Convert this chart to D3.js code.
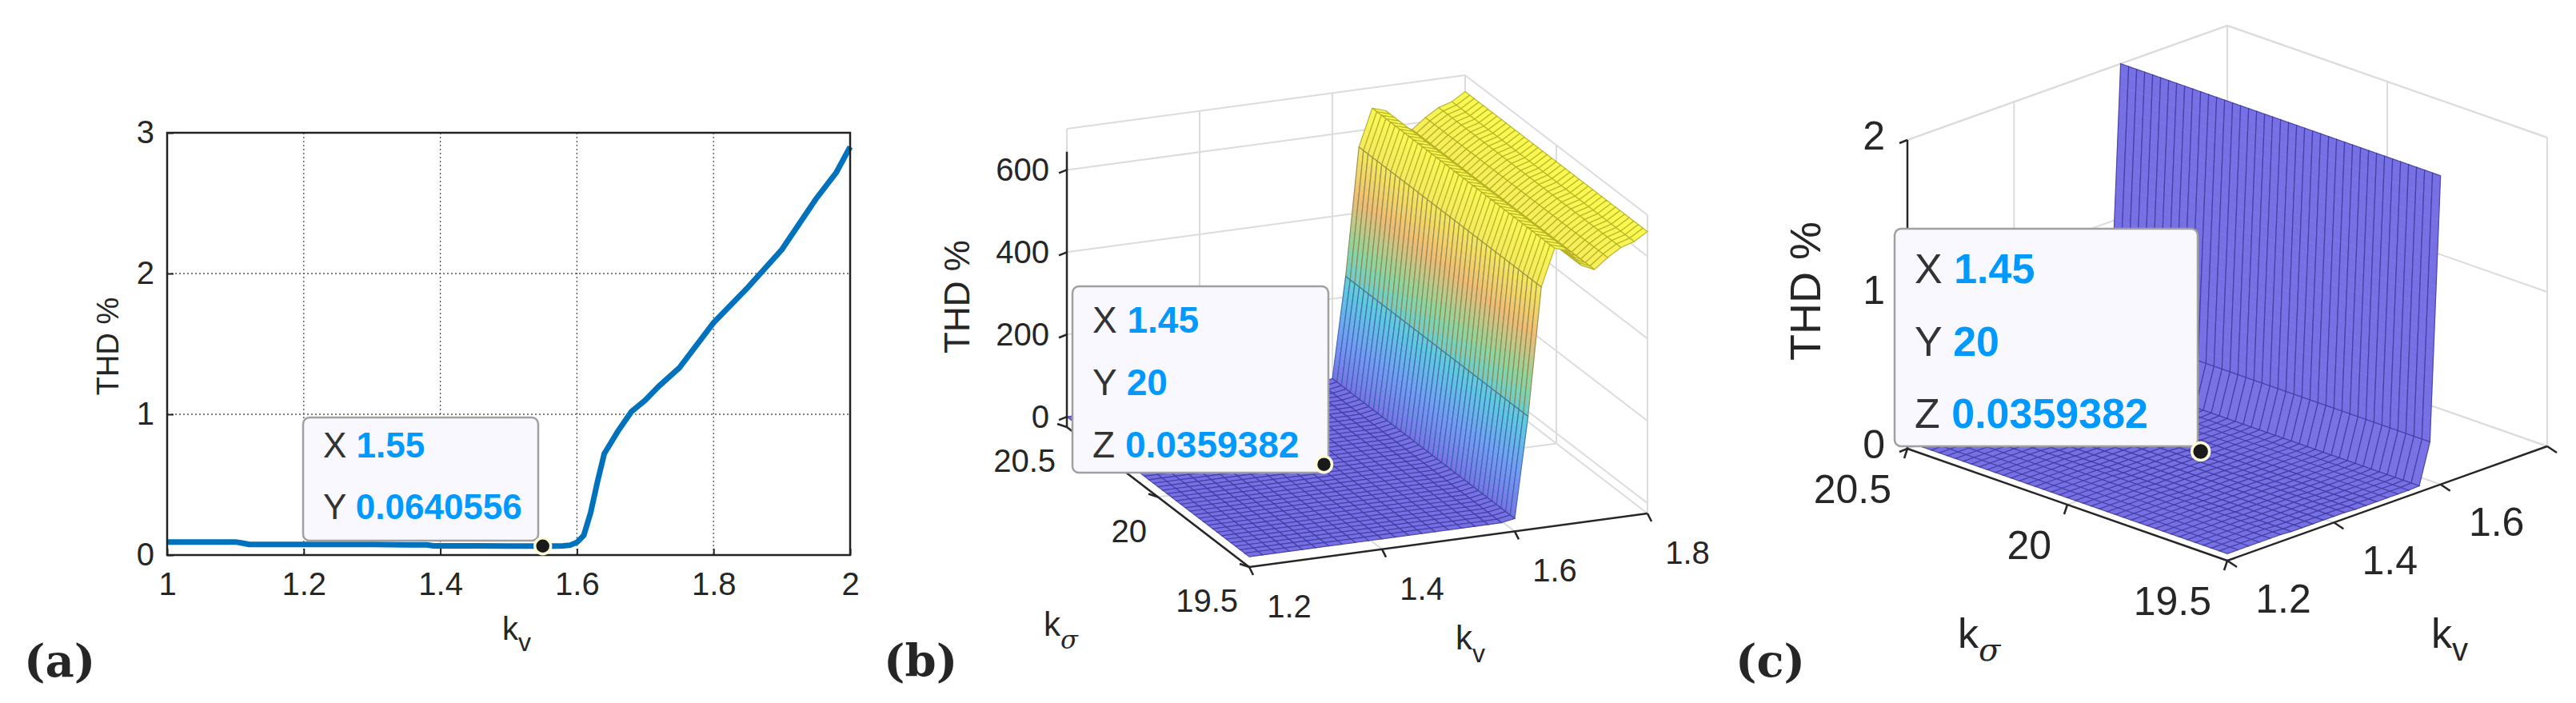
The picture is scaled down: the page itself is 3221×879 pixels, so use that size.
<!DOCTYPE html>
<html><head><meta charset="utf-8">
<script src="https://cdn.jsdelivr.net/npm/d3@7"></script>
<style>body{margin:0;background:#fff}text{font-family:"Liberation Sans",Arial,sans-serif;fill:#262626}</style>
</head><body>
<svg id="c" width="3221" height="879"></svg>
<script>
// ---- data ----
const kvA  = [1.0,1.1,1.11,1.12,1.2,1.3,1.38,1.39,1.45,1.5,1.55,1.57,1.58,1.59,1.6,1.61,1.62,1.63,1.64,1.65,1.66,1.68,1.7,1.72,1.75,1.8,1.85,1.9,1.95,1.98,2.0];
const thdA = [0.093,0.093,0.085,0.075,0.075,0.075,0.072,0.065,0.065,0.064,0.064,0.064,0.065,0.07,0.09,0.14,0.3,0.52,0.72,0.8,0.88,1.02,1.1,1.2,1.33,1.65,1.9,2.17,2.53,2.72,2.9];
const xTicksA = [1,1.2,1.4,1.6,1.8,2];
const yTicksA = [0,1,2,3];
const kvGrid = [1.2,1.22,1.24,1.26,1.28,1.3,1.32,1.34,1.36,1.38,1.4,1.42,1.44,1.46,1.48,1.5,1.52,1.54,1.56,1.58,1.6,1.62,1.64,1.66,1.68,1.7,1.72,1.74,1.76,1.78,1.8];
const thdSurf = [0.045,0.045,0.045,0.045,0.045,0.045,0.04,0.04,0.04,0.04,0.04,0.04,0.036,0.036,0.036,0.036,0.036,0.036,0.04,0.3,6,250,560,650,640,600,585,610,630,640,660];
const kSigmaTicks = [19.5,20,20.5];
const kvTicks3 = [1.2,1.4,1.6,1.8];
const zTicksB = [0,200,400,600];
const zTicksC = [0,1,2];
const tipA = {x:1.55, y:0.0640556};
const tip3 = {x:1.45, y:20, z:0.0359382};

const svg = d3.select("#c");
svg.append("rect").attr("width",3221).attr("height",879).attr("fill","#fff");

// ---- panel a ----
const xa = d3.scaleLinear().domain([1,2]).range([209,1063]);
const ya = d3.scaleLinear().domain([0,3]).range([694,166]);
const ga = svg.append("g");
ga.append("g").selectAll("line").data(xTicksA.slice(1,-1)).join("line")
  .attr("x1",d=>xa(d)).attr("x2",d=>xa(d)).attr("y1",166).attr("y2",694)
  .attr("stroke","#555").attr("stroke-width",1.3).attr("stroke-dasharray","2,3");
ga.append("g").selectAll("line").data(yTicksA.slice(1,-1)).join("line")
  .attr("y1",d=>ya(d)).attr("y2",d=>ya(d)).attr("x1",209).attr("x2",1063)
  .attr("stroke","#555").attr("stroke-width",1.3).attr("stroke-dasharray","2,3");
ga.append("path").datum(kvA.map((k,i)=>[k,thdA[i]]))
  .attr("d",d3.line().x(d=>xa(d[0])).y(d=>ya(d[1])))
  .attr("fill","none").attr("stroke","#0072BD").attr("stroke-width",7);
ga.append("rect").attr("x",209).attr("y",166).attr("width",854).attr("height",528)
  .attr("fill","none").attr("stroke","#222").attr("stroke-width",2.5);
const axb = ga.append("g").attr("transform","translate(0,694)")
  .call(d3.axisBottom(xa).tickValues(xTicksA).tickSize(-8).tickPadding(22).tickFormat(d3.format("~g")));
const axl = ga.append("g").attr("transform","translate(209,0)")
  .call(d3.axisLeft(ya).tickValues(yTicksA).tickSize(-8).tickPadding(16).tickFormat(d3.format("~g")));
[axb,axl].forEach(a=>{a.select(".domain").remove();a.selectAll("line").attr("stroke","#222").attr("stroke-width",2);
  a.selectAll("text").attr("font-size",40).attr("fill","#262626").attr("font-family","Liberation Sans Narrow, Liberation Sans");});
ga.append("text").attr("transform","translate(148,433) rotate(-90)").attr("text-anchor","middle").attr("font-size",38).text("THD %");
ga.append("text").attr("x",628).attr("y",800).attr("font-size",40).html('k<tspan font-size="32" dy="14">v</tspan>');
svg.append("text").attr("x",30).attr("y",846).attr("font-size",56).attr("font-weight","bold").style("font-family","DejaVu Serif, serif").text("(a)");

function tipBox(g,x,y,w,h,lines,fs){
  g.append("rect").attr("x",x).attr("y",y).attr("width",w).attr("height",h).attr("rx",8)
    .attr("fill","#f8f8fe").attr("stroke","#a0a0a0").attr("stroke-width",2.5);
  lines.forEach((l,i)=>{
    const t=g.append("text").attr("x",x+25).attr("y",y+h*(i+0.75)/lines.length+(lines.length==2?-8:0)).attr("font-size",fs);
    t.append("tspan").attr("fill","#333").text(l[0]+" ");
    t.append("tspan").attr("fill","#0099ff").attr("font-weight","bold").text(l[1]);
  });
}
function marker(g,x,y,r){g.append("circle").attr("cx",x).attr("cy",y).attr("r",r).attr("fill","#1a1a1a").attr("stroke","#fffbd8").attr("stroke-width",3.5);}
tipBox(ga,379,522,294,154,[["X",String(tipA.x)],["Y",String(tipA.y)]],44);
marker(ga,xa(tipA.x),ya(tipA.y),10);

// ---- 3D panels ----
const cmap = d3.scaleLinear().domain([0,110,220,330,440,550,660])
  .range(["#5048dc","#4a7ef0","#30b8d8","#70c880","#e8a850","#f0e030","#f8f820"]).clamp(true);

function panel3d(o){
  const g = svg.append("g");
  const sx=d3.scaleLinear().domain([1.2,1.8]).range([0,1]);
  const sy=d3.scaleLinear().domain([19.5,20.5]).range([0,1]);
  const sz=d3.scaleLinear().domain(o.zd).range([0,1]);
  const z0=o.zd[0], zmax=o.zd[1];
  const P=(kv,ks,z)=>[o.P0[0]+sx(kv)*o.ex[0]+sy(ks)*o.ey[0], o.P0[1]+sx(kv)*o.ex[1]+sy(ks)*o.ey[1]+sz(z)*o.ez];
  // back walls grid
  const wall=g.append("g").attr("stroke","#dcdcdc").attr("stroke-width",2).attr("fill","none");
  const L=(a,b)=>wall.append("line").attr("x1",a[0]).attr("y1",a[1]).attr("x2",b[0]).attr("y2",b[1]);
  o.zt.concat([zmax]).forEach(z=>{L(P(1.2,20.5,z),P(1.8,20.5,z));L(P(1.8,20.5,z),P(1.8,19.5,z));});
  kvTicks3.concat([1.8]).forEach(k=>L(P(k,20.5,z0),P(k,20.5,zmax)));
  [20,19.5].forEach(s=>L(P(1.8,s,z0),P(1.8,s,zmax)));
  kvTicks3.forEach(k=>L(P(k,19.5,z0),P(k,20.5,z0)));
  [20].forEach(s=>L(P(1.2,s,z0),P(1.8,s,z0)));
  // surface quads (tall cells split into bands for colour shading)
  const ksGrid=d3.range(19.5,20.5001,0.025);
  const quads=[], edges=[];
  for(let i=0;i<kvGrid.length-1;i++)for(let j=0;j<ksGrid.length-1;j++){
    const za=thdSurf[i], zb=thdSurf[i+1];
    if(Math.min(za,zb)>zmax) continue;
    const zA=Math.min(za,zmax), zB=Math.min(zb,zmax);
    const n = Math.abs(zB-zA)/(zmax-z0) > 0.1 ? 24 : 1;
    const c=P((kvGrid[i]+kvGrid[i+1])/2,(ksGrid[j]+ksGrid[j+1])/2,z0);
    for(let s=0;s<n;s++){
      const t0=s/n,t1=(s+1)/n;
      const k0=kvGrid[i]+(kvGrid[i+1]-kvGrid[i])*t0, k1=kvGrid[i]+(kvGrid[i+1]-kvGrid[i])*t1;
      const q0=zA+(zB-zA)*t0, q1=zA+(zB-zA)*t1;
      const pts=[P(k0,ksGrid[j],q0),P(k1,ksGrid[j],q1),P(k1,ksGrid[j+1],q1),P(k0,ksGrid[j+1],q0)];
      const zr = za+(zb-za)*(t0+t1)/2;
      quads.push({pts,depth:c[1]-s*0.001,z:n>1?(q0+q1)/2*(o.colorScale):zr});
    }
    const e=[P(kvGrid[i],ksGrid[j],zA),P(kvGrid[i+1],ksGrid[j],zB),P(kvGrid[i+1],ksGrid[j+1],zB),P(kvGrid[i],ksGrid[j+1],zA)];
    quads.push({pts:e,depth:c[1]+0.0005,edge:true,z:(za+zb)/2});
  }
  quads.sort((a,b)=>a.depth-b.depth);
  g.append("g").selectAll("path").data(quads).join("path")
    .attr("d",d=>"M"+d.pts.join("L")+"Z")
    .attr("fill",d=>d.edge?"none":d3.interpolateRgb("#fff",cmap(d.z))(0.78))
    .attr("stroke",d=>d.edge?d3.color(cmap(d.z)).darker(1.1):d3.interpolateRgb("#fff",cmap(d.z))(0.78))
    .attr("stroke-width",d=>d.edge?1.2:0.6).attr("stroke-opacity",d=>d.edge?0.75:1);
  // axes
  const ax=g.append("g").attr("stroke","#262626").attr("stroke-width",2.5);
  const A=(a,b)=>ax.append("line").attr("x1",a[0]).attr("y1",a[1]).attr("x2",b[0]).attr("y2",b[1]);
  A(P(1.2,19.5,z0),P(1.8,19.5,z0)); A(P(1.2,20.5,z0),P(1.2,19.5,z0)); A(P(1.2,20.5,z0),P(1.2,20.5,zmax*o.zaxFrac));
  kvTicks3.forEach(k=>{const p=P(k,19.5,z0);A(p,[p[0]+o.kvTick[0],p[1]+o.kvTick[1]]);});
  kSigmaTicks.forEach(s=>{const p=P(1.2,s,z0);A(p,[p[0]+o.ksTick[0],p[1]+o.ksTick[1]]);});
  o.zt.forEach(z=>{const p=P(1.2,20.5,z);A(p,[p[0]-10,p[1]+4]);});
  const T=(x,y,t,anchor)=>g.append("text").attr("x",x).attr("y",y).attr("font-size",o.fs).attr("text-anchor",anchor||"middle").attr("dy","0.35em").text(t);
  kvTicks3.filter(k=>k<=o.kvMaxLabel).forEach(k=>{const p=P(k,19.5,z0);T(p[0]+o.kvLab[0],p[1]+o.kvLab[1],k.toFixed(1));});
  kSigmaTicks.forEach(s=>{const p=P(1.2,s,z0);T(p[0]+o.ksLab[0],p[1]+o.ksLab[1],String(s),"end");});
  o.zt.forEach(z=>{const p=P(1.2,20.5,z);T(p[0]+o.zLab,p[1]+o.zdy,String(z),"end");});
  g.append("text").attr("transform",`translate(${o.thd[0]},${o.thd[1]}) rotate(-90)`).attr("text-anchor","middle").attr("font-size",o.fs+4).text("THD %");
  g.append("text").attr("x",o.ksl[0]).attr("y",o.ksl[1]).attr("font-size",o.fs+2).html(`k<tspan font-size="${o.fs*0.8}" font-style="italic" font-family="DejaVu Serif" dy="16">σ</tspan>`);
  g.append("text").attr("x",o.kvl[0]).attr("y",o.kvl[1]).attr("font-size",o.fs+2).html(`k<tspan font-size="${o.fs*0.8}" dy="16">v</tspan>`);
  svg.append("text").attr("x",o.lab[0]).attr("y",o.lab[1]).attr("font-size",56).attr("font-weight","bold").style("font-family","DejaVu Serif, serif").text(o.name);
  tipBox(g,o.tip[0],o.tip[1],o.tip[2],o.tip[3],[["X",String(tip3.x)],["Y",String(tip3.y)],["Z",String(tip3.z)]],o.tfs);
  const m=P(tip3.x,tip3.y,tip3.z); marker(g,m[0],m[1],o.mr);
}

panel3d({P0:[1562,709],ex:[498,-67],ey:[-228,-175],ez:-373,zd:[-25,700],zt:zTicksB,zaxFrac:0.92,colorScale:1,
  kvTick:[5,10],ksTick:[-12,-4],kvLab:[50,49],ksLab:[-14,42],zLab:-22,zdy:0,kvMaxLabel:1.8,fs:40,tfs:46,
  thd:[1212,371],ksl:[1305,795],kvl:[1820,812],lab:[1105,846],name:"(b)",tip:[1341,358,320,233],mr:10});
panel3d({P0:[2785,701],ex:[400,-143],ey:[-400,-140],ez:-386,zd:[0,2],zt:zTicksC,zaxFrac:1,colorScale:0,
  kvTick:[12,8],ksTick:[-4,12],kvLab:[70,47],ksLab:[-20,50],zLab:-28,zdy:-6,kvMaxLabel:1.6,fs:50,tfs:52,
  thd:[2276,364],ksl:[2448,810],kvl:[3040,810],lab:[2170,846],name:"(c)",tip:[2369,286,379,272],mr:11});
</script>
</body></html>
